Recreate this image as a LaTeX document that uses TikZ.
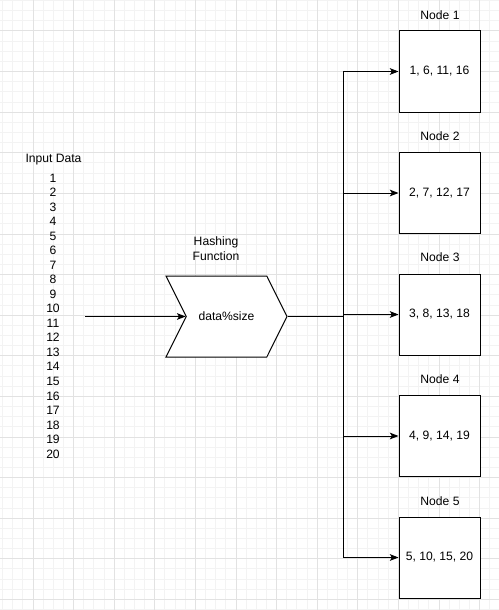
\documentclass[tikz,border=0pt]{standalone}
\usepackage{fontspec}
\setmainfont{Liberation Sans}
\usetikzlibrary{arrows.meta,shapes.symbols}
\definecolor{gridminor}{HTML}{F3F3F3}
\definecolor{gridmajor}{HTML}{E2E2E2}
\begin{document}
\begin{tikzpicture}[x=0.75pt,y=-0.75pt,line width=0.75pt,
    >={Stealth[length=6.5pt,width=5pt,inset=1.5pt]}]
  \tikzstyle{txt}=[font=\fontsize{9.1}{10.9}\selectfont,inner sep=0pt]
  \tikzstyle{bucket}=[draw,fill=white,minimum width=60.75pt,minimum height=60.75pt,inner sep=0pt,font=\fontsize{9.1}{10.9}\selectfont]
  \tikzstyle{hashfn}=[signal,draw,fill=white,signal from=west,signal to=east,signal pointer angle=127,
    minimum width=90.75pt,minimum height=60.75pt,inner sep=0pt,font=\fontsize{9.1}{10.9}\selectfont]
  % background grid
  \useasboundingbox[fill=white] (0,0) rectangle (499,610);
  \foreach \i in {-3,...,46} \draw[gridminor] ({33+10.15*\i},0) -- ({33+10.15*\i},610);
  \foreach \j in {-3,...,57} \draw[gridminor] (0,{31+10.15*\j}) -- (499,{31+10.15*\j});
  \foreach \i in {-1,...,11} \draw[gridmajor] ({33+40.6*\i},0) -- ({33+40.6*\i},610);
  \foreach \j in {-1,...,14} \draw[gridmajor] (0,{31+40.6*\j}) -- (499,{31+40.6*\j});
  % input
  \node[txt] (inputlabel) at (53.5,160) {Input Data};
  \node[txt,align=center] (data) at (53,316) {1\\2\\3\\4\\5\\6\\7\\8\\9\\10\\11\\12\\13\\14\\15\\16\\17\\18\\19\\20};
  \coordinate (source) at (85,316.5);
  % hashing
  \node[txt,align=center] (hashlabel) at (216,248.5) {Hashing\\Function};
  \node[hashfn] (hash) at (226.5,316.5) {data\%size};
  \coordinate (bus) at (343,316.5);
  % buckets
  \node[txt] (n1label) at (440,15)  {Node 1};
  \node[txt] (n2label) at (440,136) {Node 2};
  \node[txt] (n3label) at (440,257) {Node 3};
  \node[txt] (n4label) at (440,379) {Node 4};
  \node[txt] (n5label) at (440,501) {Node 5};
  \node[bucket] (n1) at (439.5,71.5)  {1, 6, 11, 16};
  \node[bucket] (n2) at (439.5,193)   {2, 7, 12, 17};
  \node[bucket] (n3) at (439.5,314.5) {3, 8, 13, 18};
  \node[bucket] (n4) at (439.5,436)   {4, 9, 14, 19};
  \node[bucket] (n5) at (439.5,557.5) {5, 10, 15, 20};
  % edges
  \draw[->] (source) -- (hash.west);
  \draw (hash.east) -- (bus);
  \draw[->] (bus) |- (n1.west);
  \draw[->] (bus) |- (n2.west);
  \draw[->] (bus) |- (n3.west);
  \draw[->] (bus) |- (n4.west);
  \draw[->] (bus) |- (n5.west);
\end{tikzpicture}
\end{document}
